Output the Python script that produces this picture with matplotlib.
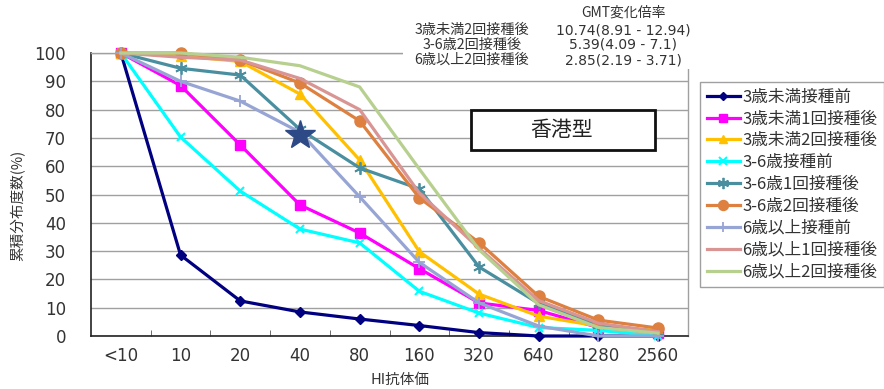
import matplotlib
matplotlib.use("Agg")
import matplotlib.pyplot as plt
from matplotlib.patches import Rectangle
from matplotlib.lines import Line2D

plt.rcParams['font.family'] = ['Noto Sans CJK JP', 'DejaVu Sans']

x_labels = ['<10', '10', '20', '40', '80', '160', '320', '640', '1280', '2560']

series_names = ['3歳未満接種前', '3歳未満1回接種後', '3歳未満2回接種後',
                '3-6歳接種前', '3-6歳1回接種後', '3-6歳2回接種後',
                '6歳以上接種前', '6歳以上1回接種後', '6歳以上2回接種後']

u3_pre = [100, 28.6, 12.4, 8.5, 6.0, 3.7, 1.2, 0, 0, 0]
u3_1 = [100, 88.5, 67.5, 46.3, 36.4, 23.8, 11.7, 9.0, 3.0, 1.0]
u3_2 = [100, 99, 97, 85.5, 62.2, 29.8, 14.8, 7.0, 3.5, 2.0]
m36_pre = [100, 70.3, 51.2, 37.8, 32.9, 15.8, 8.1, 3.0, 2.0, 0]
m36_1 = [100, 94.6, 92.2, 73.0, 59.4, 52.0, 24.4, 11.5, 4.0, 1.5]
m36_2 = [100, 100, 97.5, 89.4, 76.0, 48.8, 33.0, 14.0, 5.6, 2.8]
o6_pre = [100, 90, 83, 72, 49.2, 26, 11.7, 3.5, 0, 0]
o6_1 = [100, 98.5, 97.5, 91, 80, 50.5, 31, 12.5, 4.5, 1.5]
o6_2 = [100, 100, 98.5, 95.5, 88, 59, 30.5, 11, 3, 1]

highlight_label = '40'
highlight_value = 71

gmt_title = 'GMT変化倍率'
gmt_groups = ['3歳未満2回接種後', '3-6歳2回接種後', '6歳以上2回接種後']
gmt_values = ['10.74(8.91 - 12.94)', '5.39(4.09 - 7.1)', '2.85(2.19 - 3.71)']

all_series = [u3_pre, u3_1, u3_2, m36_pre, m36_1, m36_2, o6_pre, o6_1, o6_2]
styles = [
    dict(color='#000080', marker='D', ms=5),
    dict(color='#FF00FF', marker='s', ms=7),
    dict(color='#FFC000', marker='^', ms=7),
    dict(color='#00FFFF', marker='x', ms=6, mew=1.5),
    dict(color='#4A8FA0', marker=(6, 2, 0), ms=9, mew=1.3),
    dict(color='#DD8040', marker='o', ms=8),
    dict(color='#97A5D4', marker='+', ms=8, mew=1.3),
    dict(color='#D99594', marker=None, ms=0),
    dict(color='#B7D08F', marker=None, ms=0),
]

num_font = ['DejaVu Sans']

fig = plt.figure(figsize=(8.84, 3.89), dpi=100)
ax = fig.add_axes([91/884, 1-336/389, (688-91)/884, (336-53)/389])
ax.set_zorder(0)

xs = list(range(len(x_labels)))
for name, vals, st in zip(series_names, all_series, styles):
    ax.plot(xs, vals, color=st['color'], lw=2.3, marker=st['marker'],
            ms=st['ms'], mew=st.get('mew', 1), mec=st['color'], mfc=st['color'],
            label=name, clip_on=False, zorder=3)

ax.plot([x_labels.index(highlight_label)], [highlight_value], marker='*', ms=22,
        color='#2E4A86', ls='none', zorder=4)

ax.set_xlim(-0.5, len(x_labels) - 0.5)
ax.set_ylim(0, 100)
ax.set_yticks(range(0, 101, 10))
ax.set_xticks(xs)
ax.set_xticklabels(x_labels)
ax.set_xticks([i + 0.5 for i in xs[:-1]], minor=True)
ax.tick_params(axis='x', which='major', length=0, colors='#333333', pad=8)
ax.tick_params(axis='x', which='minor', length=4, direction='in', color='#555555')
ax.tick_params(axis='y', length=0, colors='#333333', pad=18)
for lab in ax.get_xticklabels() + ax.get_yticklabels():
    lab.set_fontfamily(num_font)
    lab.set_fontsize(12)
ax.yaxis.grid(True, color='#A0A0A0', lw=1)
ax.set_axisbelow(True)
for s in ['left', 'bottom']:
    ax.spines[s].set_color('#222222')
    ax.spines[s].set_linewidth(1.2)
for s in ['right', 'top']:
    ax.spines[s].set_color('#A0A0A0')
    ax.spines[s].set_linewidth(1)

fig.text(18/884, 1-205/389, '累積分布度数(%)', rotation=90, ha='center', va='center',
         fontsize=10.5, color='#333333')
fig.text(400/884, 1-380/389, 'HI抗体価', ha='center', va='center', fontsize=10.5, color='#333333')

# title box inside plot
fig.add_artist(Rectangle((471/884, 1-150/389), (655-471)/884, 40/389,
                         transform=fig.transFigure, fill=True, fc='white',
                         ec='#111111', lw=2, zorder=1))
fig.text(562/884, 1-130/389, '香港型', ha='center', va='center',
         fontsize=15, color='#222222', zorder=3)

# white box covering top for GMT text
fig.add_artist(Rectangle((403/884, 1-69/389), (700-403)/884, 69/389,
                         transform=fig.transFigure, fc='white', ec='none', zorder=2))
fig.text(623/884, 1-13/389, gmt_title, ha='center', va='center', fontsize=10,
         color='#333333', zorder=3)
for i, (g, v) in enumerate(zip(gmt_groups, gmt_values)):
    yy = 1 - (30 + 15 * i) / 389
    fig.text(472/884, yy, g, ha='center', va='center', fontsize=10.2, color='#333333', zorder=3)
    fig.text(623/884, yy, v, ha='center', va='center', fontsize=10, family=num_font,
             color='#333333', zorder=3)

leg_handles = []
for name, st in zip(series_names, styles):
    leg_handles.append(Line2D([0], [0], color=st['color'], lw=2.3, marker=st['marker'],
                              ms=st['ms'] * 0.9 if st['ms'] else 0, mew=st.get('mew', 1),
                              mec=st['color'], mfc=st['color']))
leg = fig.legend(leg_handles, series_names, loc='upper left',
                 bbox_to_anchor=(700/884, 1-82/389), frameon=True, fontsize=12,
                 handlelength=2.0, handletextpad=0.15, labelspacing=0.29,
                 borderpad=0.4, fancybox=False, edgecolor='#888888', borderaxespad=0)
leg.get_frame().set_linewidth(1)
for t in leg.get_texts():
    t.set_color('#333333')

fig.savefig('out.png', dpi=100)
